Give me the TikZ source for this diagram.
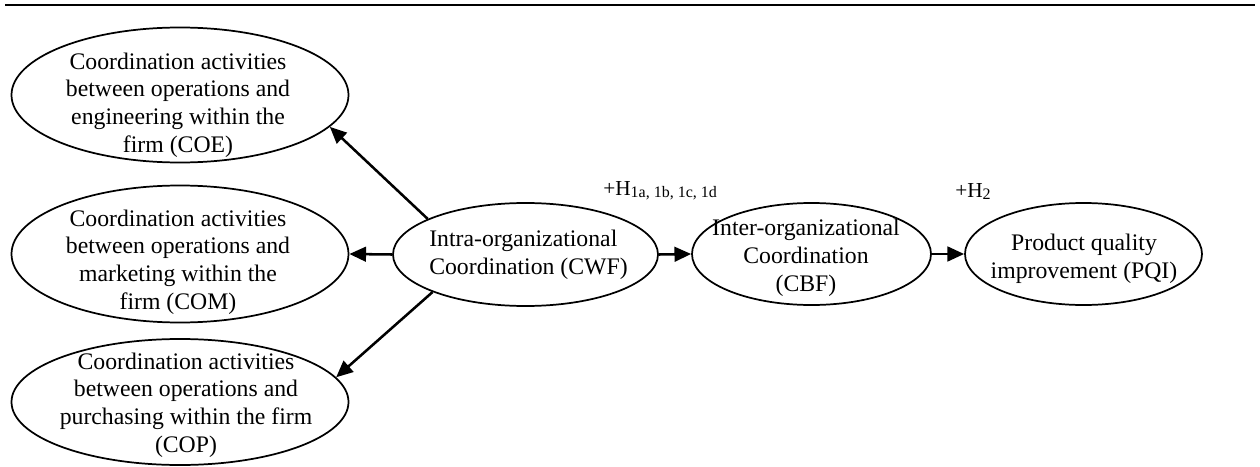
\documentclass[tikz,border=0pt]{standalone}
\usepackage{fontspec}
\setmainfont{Liberation Serif}
\usetikzlibrary{shapes.geometric,arrows.meta}
\begin{document}
\begin{tikzpicture}[x=0.75pt,y=-0.75pt,
  oval/.style={draw, ellipse, line width=1.3pt, inner sep=0pt},
  txt/.style={align=center, font=\fontsize{17.8}{20.8}\selectfont, inner sep=0pt},
  arr/.style={line width=1.9pt, -{Triangle[length=12.5pt,width=11pt]}},
  lbl/.style={anchor=base west, inner sep=0pt, font=\fontsize{16}{18}\selectfont},
  subfont/.style={font=\fontsize{12}{14}\selectfont}]
\useasboundingbox (0,0) rectangle (1260,467);
% top rule
\draw[line width=1.8pt] (5,5) -- (1255,5);
% ellipses
\node[oval, minimum width=252.75pt, minimum height=101.25pt] (coe) at (180,95) {};
\node[oval, minimum width=252.75pt, minimum height=102.75pt] (com) at (180,254) {};
\node[oval, minimum width=252.75pt, minimum height=94.5pt] (cop) at (180,402) {};
\node[oval, minimum width=198.75pt, minimum height=77.25pt] (cwf) at (525.5,254.5) {};
\node[oval, minimum width=179.25pt, minimum height=76.5pt] (cbf) at (811.5,254) {};
\node[oval, minimum width=177.75pt, minimum height=76.5pt] (pqi) at (1083.5,254) {};
% texts
\node[txt] (coet) at (178,105) {Coordination activities\\between operations and\\engineering within the\\firm (COE)};
\node[txt] (comt) at (178,262) {Coordination activities\\between operations and\\marketing within the\\firm (COM)};
\node[txt] (copt) at (186,405) {Coordination activities\\between operations and\\purchasing within the firm\\(COP)};
\node[txt, align=left] (cwft) at (528.5,255) {Intra-organizational\\Coordination (CWF)};
\node[txt] (cbft) at (806,258) {Inter-organizational\\Coordination\\(CBF)};
\node[txt] (pqit) at (1084,259) {Product quality\\improvement (PQI)};
% labels
\node[lbl] (h1) at (603,195) {+H\raisebox{-2pt}{\fontsize{12}{14}\selectfont 1a, 1b, 1c, 1d}};
\node[lbl] (h2) at (955,197) {+H\raisebox{-2pt}{\fontsize{12}{14}\selectfont 2}};
% connectors
\draw[arr] (cwf.west) -- (com.east);
\draw[arr] (cwf.east) -- (cbf.west);
\draw[arr] (cbf.east) -- (pqi.west);
\draw[arr] (cwf.160) -- (coe.-12);
\draw[arr] (cwf.202) -- (cop.9);
\end{tikzpicture}
\end{document}
